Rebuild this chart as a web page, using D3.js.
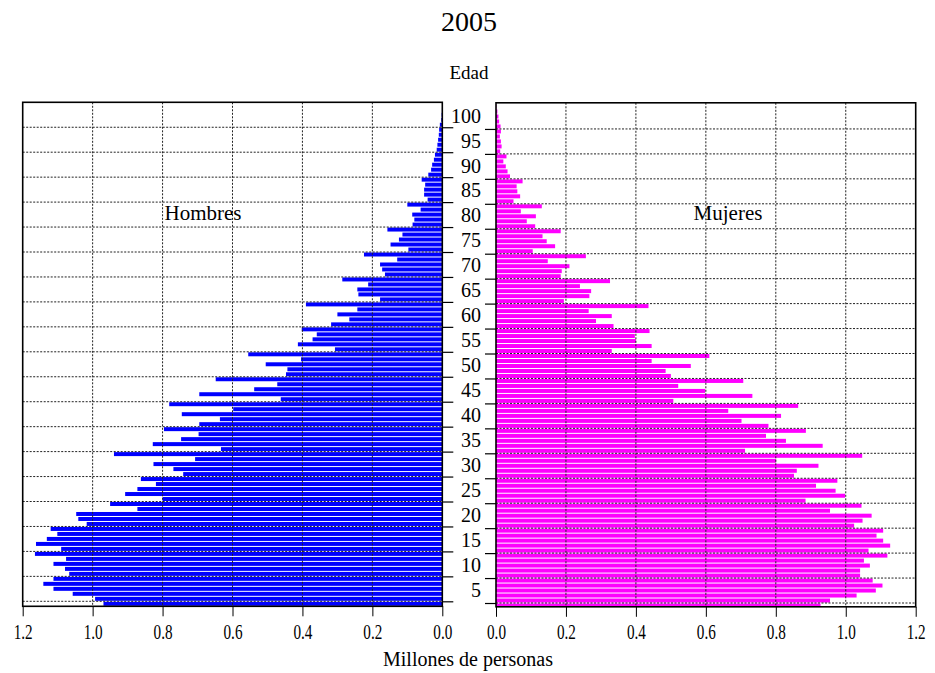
<!DOCTYPE html>
<html>
<head>
<meta charset="utf-8">
<script src="https://cdn.jsdelivr.net/npm/d3@7"></script>
<style>
  body { margin: 0; background: #fff; }
  text { font-family: "Liberation Serif", "Times New Roman", serif; fill: #000; }
</style>
</head>
<body>
<script>
// ---- data ----
const ages = d3.range(0, 101);
const hombres = [
  0.969,0.993,1.057,1.112,1.141,1.112,1.067,1.079,1.112,1.076,
  1.165,1.090,1.162,1.131,1.101,1.120,1.017,1.041,1.047,0.872,
  0.950,0.800,0.907,0.872,0.819,0.862,0.741,0.769,0.826,0.707,
  0.939,0.633,0.828,0.747,0.697,0.796,0.695,0.636,0.745,0.598,
  0.781,0.462,0.695,0.538,0.472,0.648,0.447,0.443,0.505,0.404,
  0.555,0.307,0.413,0.371,0.359,0.402,0.318,0.266,0.300,0.243,
  0.390,0.178,0.240,0.243,0.212,0.286,0.164,0.172,0.178,0.129,
  0.224,0.097,0.148,0.124,0.114,0.157,0.085,0.080,0.086,0.062,
  0.100,0.042,0.052,0.052,0.049,0.059,0.040,0.032,0.029,0.024,
  0.021,0.016,0.014,0.012,0.010,0.009,0.007,0.003,0.002,0.001,
  0.000
];
const mujeres = [
  0.928,0.955,1.031,1.086,1.105,1.077,1.041,1.041,1.069,1.052,
  1.119,1.065,1.127,1.107,1.088,1.107,1.024,1.048,1.074,0.955,
  1.045,0.885,0.998,0.971,0.915,0.976,0.852,0.860,0.922,0.801,
  1.047,0.712,0.934,0.829,0.772,0.886,0.779,0.702,0.815,0.664,
  0.864,0.507,0.733,0.598,0.521,0.707,0.500,0.485,0.557,0.445,
  0.610,0.331,0.445,0.400,0.397,0.439,0.336,0.286,0.331,0.265,
  0.436,0.194,0.267,0.272,0.240,0.326,0.185,0.188,0.210,0.148,
  0.257,0.105,0.169,0.145,0.133,0.185,0.112,0.088,0.114,0.071,
  0.131,0.050,0.069,0.061,0.059,0.076,0.040,0.033,0.028,0.021,
  0.030,0.012,0.016,0.014,0.011,0.014,0.013,0.009,0.007,0.004,
  0.001
];
const xTicks = [0, 0.2, 0.4, 0.6, 0.8, 1.0, 1.2];
const ageLabels = [5,10,15,20,25,30,35,40,45,50,55,60,65,70,75,80,85,90,95,100];
const ageGrid = [0,5,10,15,20,25,30,35,40,45,50,55,60,65,70,75,80,85,90,95];
const title = "2005";

// ---- layout ----
const W = 935, H = 673;
const svg = d3.select("body").append("svg").attr("width", W).attr("height", H);

const L = {x0: 22.7, x1: 442.3, y0: 102.3, y1: 606.3};
const R = {x0: 496, x1: 915.7, y0: 102.8, y1: 606.8};

const xL = d3.scaleLinear().domain([0, 1.2]).range([L.x1, L.x0]);
const xR = d3.scaleLinear().domain([0, 1.2]).range([R.x0, R.x1]);
// y: bar for age a occupies [a, a+1]
const yL = d3.scaleLinear().domain([0, 101]).range([606.3, 102.3]);
const yR = d3.scaleLinear().domain([0, 101]).range([608.0, 104.0]);

const defs = svg.append("defs");
defs.append("clipPath").attr("id", "clipL").append("rect")
  .attr("x", L.x0).attr("y", L.y0).attr("width", L.x1 - L.x0).attr("height", L.y1 - L.y0);
defs.append("clipPath").attr("id", "clipR").append("rect")
  .attr("x", R.x0).attr("y", R.y0).attr("width", R.x1 - R.x0).attr("height", R.y1 - R.y0);

function panel(P, xs, ys, data, color, clip, side) {
  const g = svg.append("g");
  const inner = g.append("g").attr("clip-path", `url(#${clip})`);
  // bars
  inner.selectAll("rect.bar").data(ages).enter().append("rect")
    .attr("class", "bar")
    .attr("x", a => Math.min(xs(0), xs(data[a])))
    .attr("width", a => Math.abs(xs(data[a]) - xs(0)))
    .attr("y", a => ys(a + 1) + 0.5)
    .attr("height", a => ys(a) - ys(a + 1) - 1)
    .attr("fill", color);
  // horizontal grid (on top of bars)
  inner.selectAll("line.hg").data(ageGrid).enter().append("line")
    .attr("x1", P.x0).attr("x2", P.x1)
    .attr("y1", d => ys(d + 1)).attr("y2", d => ys(d + 1))
    .attr("stroke", "#222").attr("stroke-width", 1).attr("stroke-dasharray", "2,1.5");
  // vertical grid
  inner.selectAll("line.vg").data(xTicks.slice(1, -1)).enter().append("line")
    .attr("x1", d => xs(d)).attr("x2", d => xs(d))
    .attr("y1", P.y0).attr("y2", P.y1)
    .attr("stroke", "#222").attr("stroke-width", 1).attr("stroke-dasharray", "2,1.5");
  // frame
  g.append("rect").attr("x", P.x0).attr("y", P.y0)
    .attr("width", P.x1 - P.x0).attr("height", P.y1 - P.y0)
    .attr("fill", "none").attr("stroke", "#000").attr("stroke-width", 1.6);
  // age ticks on the middle side
  const ax = side === "right"
    ? d3.axisRight(ys).tickValues(ageGrid.map(d => d + 1)).tickSize(11).tickFormat("")
    : d3.axisLeft(ys).tickValues(ageGrid.map(d => d + 1)).tickSize(11).tickFormat("");
  const ag = g.append("g").attr("transform", `translate(${side === "right" ? P.x1 : P.x0},0)`).call(ax);
  ag.select(".domain").remove();
  ag.selectAll("line").attr("stroke", "#000").attr("stroke-width", 1.2);
  // bottom axis
  const bx = d3.axisBottom(xs).tickValues(xTicks).tickSize(10).tickPadding(7)
    .tickFormat(d3.format(".1f"));
  const bg = g.append("g").attr("transform", `translate(0,${P.y1})`).call(bx);
  bg.select(".domain").remove();
  bg.selectAll("line").attr("stroke", "#000").attr("stroke-width", 1);
  bg.selectAll("text")
    .style("font-family", '"Liberation Serif", serif')
    .style("font-size", "22px")
    .attr("fill", "#000")
    .attr("textLength", 19)
    .attr("lengthAdjust", "spacingAndGlyphs");
}

panel(L, xL, yL, hombres, "#0000ff", "clipL", "right");
panel(R, xR, yR, mujeres, "#ff00ff", "clipR", "left");

// age labels between the panels
svg.append("g").selectAll("text").data(ageLabels).enter().append("text")
  .attr("x", 481)
  .attr("y", d => (yL(d - 1.5) + yR(d - 1.5)) / 2)
  .attr("dy", "0.35em")
  .attr("text-anchor", "end")
  .style("font-size", "20px")
  .text(d => d);

// texts
svg.append("text").attr("x", 469).attr("y", 31).attr("text-anchor", "middle")
  .style("font-size", "28px").text(title);
svg.append("text").attr("x", 469).attr("y", 79).attr("text-anchor", "middle")
  .style("font-size", "19px").text("Edad");
svg.append("text").attr("x", 203).attr("y", 220).attr("text-anchor", "middle")
  .style("font-size", "21px").text("Hombres");
svg.append("text").attr("x", 728).attr("y", 220).attr("text-anchor", "middle")
  .style("font-size", "21px").text("Mujeres");
svg.append("text").attr("x", 468).attr("y", 666).attr("text-anchor", "middle")
  .style("font-size", "20px").text("Millones de personas");
</script>
</body>
</html>
